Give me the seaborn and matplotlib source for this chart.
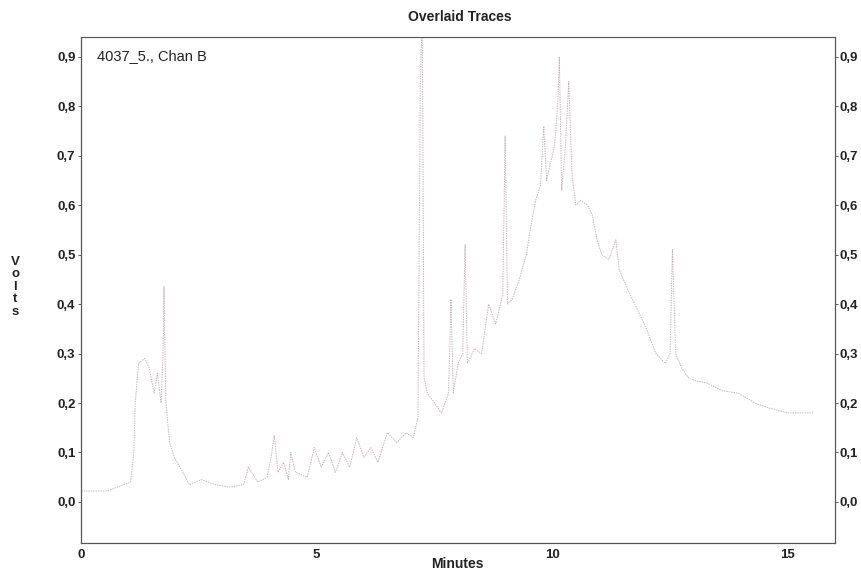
import numpy as np
import pandas as pd
import matplotlib
matplotlib.use("Agg")
import matplotlib.pyplot as plt
import seaborn as sns

# Chromatogram trace: retention time (minutes) and detector signal (volts)
minutes = [0.00, 0.55, 1.05, 1.12, 1.15, 1.22, 1.35, 1.45, 1.55, 1.62, 1.70, 1.74,
           1.76, 1.80, 1.88, 1.98, 2.10, 2.30, 2.55, 2.85, 3.15, 3.45, 3.55, 3.75,
           3.95, 4.05, 4.10, 4.18, 4.30, 4.40, 4.45, 4.55, 4.80, 4.95, 5.10, 5.25,
           5.40, 5.55, 5.70, 5.85, 6.00, 6.15, 6.30, 6.50, 6.70, 6.90, 7.05, 7.15,
           7.20, 7.24, 7.28, 7.35, 7.50, 7.65, 7.80, 7.85, 7.90, 8.00, 8.10, 8.15,
           8.20, 8.35, 8.50, 8.65, 8.80, 8.95, 9.00, 9.05, 9.15, 9.30, 9.45, 9.55,
           9.65, 9.75, 9.82, 9.88, 9.95, 10.05, 10.12, 10.15, 10.20, 10.28, 10.35,
           10.42, 10.50, 10.60, 10.75, 10.85, 10.95, 11.05, 11.20, 11.35, 11.42,
           11.60, 11.80, 12.00, 12.20, 12.40, 12.50, 12.55, 12.62, 12.75, 12.90,
           13.05, 13.30, 13.60, 13.95, 14.30, 14.60, 15.00, 15.55]
volts = [0.022, 0.022, 0.040, 0.10, 0.20, 0.28, 0.29, 0.27, 0.22, 0.26, 0.20, 0.30,
         0.435, 0.20, 0.12, 0.09, 0.07, 0.035, 0.045, 0.035, 0.030, 0.035, 0.07, 0.04,
         0.05, 0.10, 0.135, 0.06, 0.08, 0.045, 0.10, 0.06, 0.05, 0.11, 0.07, 0.10,
         0.06, 0.10, 0.07, 0.13, 0.09, 0.11, 0.08, 0.14, 0.12, 0.14, 0.13, 0.17,
         0.85, 0.98, 0.25, 0.22, 0.20, 0.18, 0.22, 0.41, 0.22, 0.28, 0.30, 0.52,
         0.28, 0.31, 0.30, 0.40, 0.36, 0.42, 0.74, 0.40, 0.41, 0.45, 0.50, 0.56,
         0.61, 0.64, 0.76, 0.65, 0.68, 0.72, 0.81, 0.90, 0.63, 0.72, 0.85,
         0.66, 0.60, 0.61, 0.60, 0.58, 0.53, 0.50, 0.49, 0.53, 0.47,
         0.43, 0.39, 0.35, 0.30, 0.28, 0.30, 0.51, 0.30, 0.27, 0.25,
         0.245, 0.24, 0.225, 0.22, 0.20, 0.19, 0.18, 0.18]

x_ticks = [0, 5, 10, 15]
y_ticks = [0.0, 0.1, 0.2, 0.3, 0.4, 0.5, 0.6, 0.7, 0.8, 0.9]
y_tick_labels = ["0,0", "0,1", "0,2", "0,3", "0,4", "0,5", "0,6", "0,7", "0,8", "0,9"]

sns.set_style("white")
plt.rcParams["font.family"] = ["Liberation Sans", "DejaVu Sans"]

df = pd.DataFrame({"Minutes": minutes, "Volts": volts})

fig = plt.figure(figsize=(8.61, 5.70), dpi=100)
ax = fig.add_axes([0.0941, 0.0474, 0.8757, 0.8876])

sns.lineplot(data=df, x="Minutes", y="Volts", ax=ax, sort=False, estimator=None,
             color="#c4b6bf", linewidth=0.7, linestyle=(0, (1.5, 1.0)))

tick_font = dict(fontsize=9.5, fontweight="bold", color="#222222")

ax.set_xlim(0, 16)
ax.set_ylim(-0.083, 0.94)
ax.set_xticks(x_ticks)
ax.set_xticklabels([str(t) for t in x_ticks], **tick_font)
ax.set_yticks(y_ticks)
ax.set_yticklabels(y_tick_labels, **tick_font)
ax.tick_params(axis="both", length=2, width=0.6, color="#444444", pad=2)
ax.set_xlabel("")
ax.set_ylabel("")

# Mirrored volt scale on the right side
ax2 = ax.twinx()
ax2.set_ylim(ax.get_ylim())
ax2.set_yticks(y_ticks)
ax2.set_yticklabels(y_tick_labels, **tick_font)
ax2.tick_params(axis="y", length=2, width=0.6, color="#444444", pad=1)

for a in (ax, ax2):
    for side, sp in a.spines.items():
        sp.set_visible(True)
        sp.set_linewidth(0.8)
        sp.set_color("#555555")
        sp.set_linestyle((0, (2, 1)))
ax.spines["left"].set_color("#2a2a2a")
ax.spines["left"].set_linestyle("-")
ax.spines["top"].set_color("#999999")

ax.text(0.021, 0.962, "4037_5., Chan B", transform=ax.transAxes, fontsize=10.5,
        color="#222222", va="center", ha="left")

fig.text(0.534, 0.970, "Overlaid Traces", fontsize=10, fontweight="bold",
         color="#222222", ha="center", va="center")
fig.text(0.531, 0.011, "Minutes", fontsize=10, fontweight="bold",
         color="#222222", ha="center", va="center")
fig.text(0.018, 0.497, "V\no\nl\nt\ns", fontsize=9.5, fontweight="bold",
         color="#222222", ha="center", va="center", linespacing=1.05)

fig.savefig("out.png", dpi=100)
